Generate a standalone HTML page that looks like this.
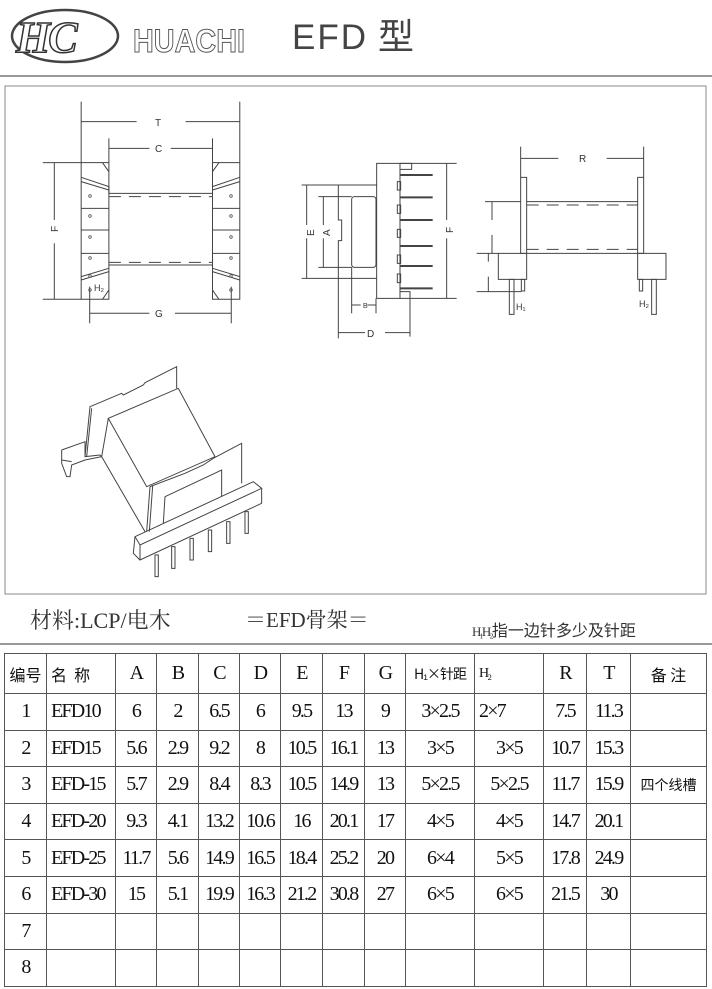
<!DOCTYPE html>
<html><head><meta charset="utf-8"><style>
html,body{margin:0;padding:0;background:#fff;}
body{width:712px;height:989px;position:relative;overflow:hidden;font-family:"Liberation Serif","Noto Serif CJK SC",serif;}
.abs{position:absolute;white-space:nowrap;}
table{position:absolute;left:4px;top:653px;border-collapse:collapse;}
td{border:1.5px solid #555;text-align:center;font-size:20px;color:#111;padding:0;letter-spacing:-1.8px;font-family:"Liberation Serif","Noto Serif CJK SC",serif;}
tr{height:36.6px;}
tr.h{height:40px;}
td.l{text-align:left;padding-left:4px;}
td.zh{font-family:"Noto Sans CJK SC",sans-serif;font-size:16px;letter-spacing:0;}
</style></head><body>
<svg class="abs" style="left:0;top:0" width="712" height="989" viewBox="0 0 712 989">
<!-- logo -->
<ellipse cx="65" cy="36" rx="53" ry="26" fill="none" stroke="#444" stroke-width="2.5"/>
<text x="16" y="52" font-family="Liberation Serif" font-style="italic" font-weight="bold" font-size="44" fill="#fff" stroke="#333" stroke-width="1.5" letter-spacing="-2">HC</text>
<text x="133" y="52" font-family="Liberation Sans" font-weight="bold" font-size="32" fill="#fff" stroke="#555" stroke-width="1" textLength="112" lengthAdjust="spacingAndGlyphs">HUACHI</text>
<text x="292" y="49" font-family="Liberation Sans,Noto Sans CJK SC,sans-serif" font-size="35" fill="#444" letter-spacing="2">EFD</text>
<text x="378" y="49" font-family="Noto Sans CJK SC,sans-serif" font-size="36" fill="#444">型</text>
<line x1="0" y1="76" x2="712" y2="76" stroke="#777" stroke-width="1.5"/>
<rect x="5" y="86" width="701" height="508" fill="none" stroke="#888" stroke-width="1"/>
<line x1="0" y1="644" x2="712" y2="644" stroke="#777" stroke-width="1.5"/>

<g fill="none" stroke="#444" stroke-width="1" vector-effect="non-scaling-stroke">
<!-- left view -->
<g transform="translate(30,90) scale(0.4264,0.3333)">
<rect x="120" y="218" width="65" height="410" vector-effect="non-scaling-stroke"/>
<rect x="428" y="218" width="64" height="410" vector-effect="non-scaling-stroke"/>
<line x1="185" y1="310" x2="428" y2="310" vector-effect="non-scaling-stroke"/>
<line x1="185" y1="525" x2="428" y2="525" vector-effect="non-scaling-stroke"/>
<line x1="185" y1="320" x2="428" y2="320" stroke-dasharray="12,8" vector-effect="non-scaling-stroke"/>
<line x1="185" y1="517" x2="428" y2="517" stroke-dasharray="12,8" vector-effect="non-scaling-stroke"/>
<polyline points="120,262 185,290 185,310" vector-effect="non-scaling-stroke"/>
<polyline points="120,275 185,300" vector-effect="non-scaling-stroke"/>
<polyline points="492,262 428,290" vector-effect="non-scaling-stroke"/>
<polyline points="492,275 428,300" vector-effect="non-scaling-stroke"/>
<line x1="120" y1="355" x2="185" y2="355" vector-effect="non-scaling-stroke"/>
<line x1="120" y1="420" x2="185" y2="420" vector-effect="non-scaling-stroke"/>
<line x1="120" y1="490" x2="185" y2="490" vector-effect="non-scaling-stroke"/>
<line x1="428" y1="355" x2="492" y2="355" vector-effect="non-scaling-stroke"/>
<line x1="428" y1="420" x2="492" y2="420" vector-effect="non-scaling-stroke"/>
<line x1="428" y1="490" x2="492" y2="490" vector-effect="non-scaling-stroke"/>
<polyline points="120,560 185,535" vector-effect="non-scaling-stroke"/>
<polyline points="120,570 185,545" vector-effect="non-scaling-stroke"/>
<polyline points="492,560 428,535" vector-effect="non-scaling-stroke"/>
<polyline points="492,570 428,545" vector-effect="non-scaling-stroke"/>
<line x1="170" y1="218" x2="185" y2="245" vector-effect="non-scaling-stroke"/>
<line x1="443" y1="218" x2="428" y2="245" vector-effect="non-scaling-stroke"/>
<line x1="170" y1="628" x2="185" y2="600" vector-effect="non-scaling-stroke"/>
<line x1="443" y1="628" x2="428" y2="600" vector-effect="non-scaling-stroke"/>
<line x1="120" y1="35" x2="120" y2="218" vector-effect="non-scaling-stroke"/>
<line x1="492" y1="35" x2="492" y2="218" vector-effect="non-scaling-stroke"/>
<line x1="120" y1="95" x2="250" y2="95" vector-effect="non-scaling-stroke"/>
<line x1="365" y1="95" x2="492" y2="95" vector-effect="non-scaling-stroke"/>
<line x1="185" y1="145" x2="185" y2="218" vector-effect="non-scaling-stroke"/>
<line x1="428" y1="145" x2="428" y2="218" vector-effect="non-scaling-stroke"/>
<line x1="185" y1="175" x2="280" y2="175" vector-effect="non-scaling-stroke"/>
<line x1="330" y1="175" x2="428" y2="175" vector-effect="non-scaling-stroke"/>
<line x1="30" y1="218" x2="120" y2="218" vector-effect="non-scaling-stroke"/>
<line x1="30" y1="628" x2="120" y2="628" vector-effect="non-scaling-stroke"/>
<line x1="57" y1="218" x2="57" y2="390" vector-effect="non-scaling-stroke"/>
<line x1="57" y1="460" x2="57" y2="628" vector-effect="non-scaling-stroke"/>
<line x1="140" y1="590" x2="140" y2="700" vector-effect="non-scaling-stroke"/>
<line x1="472" y1="590" x2="472" y2="700" vector-effect="non-scaling-stroke"/>
<line x1="140" y1="670" x2="280" y2="670" vector-effect="non-scaling-stroke"/>
<line x1="340" y1="670" x2="472" y2="670" vector-effect="non-scaling-stroke"/>
</g>
<!-- middle view -->
<g transform="translate(290,150) scale(0.3333)">
<rect x="260" y="40" width="70" height="405" vector-effect="non-scaling-stroke"/>
<polyline points="260,105 145,105 145,210 155,210 155,272 145,272 145,385 260,385" vector-effect="non-scaling-stroke"/>
<rect x="185" y="140" width="73" height="212" rx="8" vector-effect="non-scaling-stroke"/>
<polyline points="330,40 365,40 365,58 330,58" vector-effect="non-scaling-stroke"/>
<polyline points="330,425 360,425 360,560" vector-effect="non-scaling-stroke"/>
<g stroke-width="2">
<line x1="330" y1="75" x2="428" y2="75" vector-effect="non-scaling-stroke"/>
<line x1="330" y1="142" x2="428" y2="142" vector-effect="non-scaling-stroke"/>
<line x1="330" y1="210" x2="428" y2="210" vector-effect="non-scaling-stroke"/>
<line x1="330" y1="288" x2="428" y2="288" vector-effect="non-scaling-stroke"/>
<line x1="330" y1="348" x2="428" y2="348" vector-effect="non-scaling-stroke"/>
<line x1="330" y1="415" x2="428" y2="415" vector-effect="non-scaling-stroke"/>
</g>
<rect x="322" y="95" width="10" height="25" vector-effect="non-scaling-stroke"/>
<rect x="322" y="165" width="10" height="25" vector-effect="non-scaling-stroke"/>
<rect x="322" y="238" width="10" height="24" vector-effect="non-scaling-stroke"/>
<rect x="322" y="315" width="10" height="25" vector-effect="non-scaling-stroke"/>
<rect x="322" y="372" width="10" height="26" vector-effect="non-scaling-stroke"/>
<line x1="330" y1="40" x2="500" y2="40" vector-effect="non-scaling-stroke"/>
<line x1="330" y1="445" x2="500" y2="445" vector-effect="non-scaling-stroke"/>
<line x1="470" y1="40" x2="470" y2="210" vector-effect="non-scaling-stroke"/>
<line x1="470" y1="265" x2="470" y2="445" vector-effect="non-scaling-stroke"/>
<line x1="35" y1="105" x2="145" y2="105" vector-effect="non-scaling-stroke"/>
<line x1="35" y1="385" x2="145" y2="385" vector-effect="non-scaling-stroke"/>
<line x1="85" y1="140" x2="185" y2="140" vector-effect="non-scaling-stroke"/>
<line x1="85" y1="352" x2="185" y2="352" vector-effect="non-scaling-stroke"/>
<line x1="50" y1="105" x2="50" y2="225" vector-effect="non-scaling-stroke"/>
<line x1="50" y1="265" x2="50" y2="385" vector-effect="non-scaling-stroke"/>
<line x1="100" y1="140" x2="100" y2="225" vector-effect="non-scaling-stroke"/>
<line x1="100" y1="265" x2="100" y2="352" vector-effect="non-scaling-stroke"/>
<line x1="145" y1="385" x2="145" y2="565" vector-effect="non-scaling-stroke"/>
<line x1="185" y1="352" x2="185" y2="490" vector-effect="non-scaling-stroke"/>
<line x1="258" y1="445" x2="258" y2="490" vector-effect="non-scaling-stroke"/>
<line x1="185" y1="465" x2="212" y2="465" vector-effect="non-scaling-stroke"/>
<line x1="232" y1="465" x2="258" y2="465" vector-effect="non-scaling-stroke"/>
<line x1="145" y1="548" x2="225" y2="548" vector-effect="non-scaling-stroke"/>
<line x1="285" y1="548" x2="360" y2="548" vector-effect="non-scaling-stroke"/>
</g>
<!-- right view -->
<g transform="translate(470,140) scale(0.3333)">
<rect x="152" y="112" width="18" height="228" vector-effect="non-scaling-stroke"/>
<rect x="503" y="112" width="18" height="228" vector-effect="non-scaling-stroke"/>
<line x1="170" y1="185" x2="503" y2="185" vector-effect="non-scaling-stroke"/>
<line x1="170" y1="340" x2="503" y2="340" vector-effect="non-scaling-stroke"/>
<line x1="170" y1="195" x2="503" y2="195" stroke-dasharray="12,8" vector-effect="non-scaling-stroke"/>
<line x1="170" y1="328" x2="503" y2="328" stroke-dasharray="12,8" vector-effect="non-scaling-stroke"/>
<rect x="85" y="340" width="85" height="78" vector-effect="non-scaling-stroke"/>
<rect x="503" y="340" width="85" height="78" vector-effect="non-scaling-stroke"/>
<rect x="118" y="418" width="14" height="105" vector-effect="non-scaling-stroke"/>
<rect x="154" y="418" width="10" height="35" vector-effect="non-scaling-stroke"/>
<rect x="508" y="418" width="10" height="35" vector-effect="non-scaling-stroke"/>
<rect x="545" y="418" width="14" height="105" vector-effect="non-scaling-stroke"/>
<line x1="152" y1="20" x2="152" y2="112" vector-effect="non-scaling-stroke"/>
<line x1="521" y1="20" x2="521" y2="112" vector-effect="non-scaling-stroke"/>
<line x1="152" y1="55" x2="265" y2="55" vector-effect="non-scaling-stroke"/>
<line x1="410" y1="55" x2="521" y2="55" vector-effect="non-scaling-stroke"/>
<line x1="45" y1="185" x2="152" y2="185" vector-effect="non-scaling-stroke"/>
<line x1="20" y1="340" x2="85" y2="340" vector-effect="non-scaling-stroke"/>
<line x1="20" y1="455" x2="154" y2="455" vector-effect="non-scaling-stroke"/>
<line x1="66" y1="185" x2="66" y2="240" vector-effect="non-scaling-stroke"/>
<line x1="66" y1="285" x2="66" y2="340" vector-effect="non-scaling-stroke"/>
<line x1="55" y1="340" x2="55" y2="365" vector-effect="non-scaling-stroke"/>
<line x1="55" y1="410" x2="55" y2="455" vector-effect="non-scaling-stroke"/>
</g>
<!-- 3D view -->
<g transform="translate(40,360) scale(0.3333)">
<polyline points="135,290 150,140 245,100 250,105 310,75 315,68 410,20 410,85" vector-effect="non-scaling-stroke"/>
<polyline points="140,290 155,145" vector-effect="non-scaling-stroke"/>
<polyline points="65,270 135,245 135,290 180,285 185,290" vector-effect="non-scaling-stroke"/>
<polyline points="65,270 65,310 80,350 90,350 95,315 135,300 185,290" vector-effect="non-scaling-stroke"/>
<polyline points="65,300 95,305" vector-effect="non-scaling-stroke"/>
<polygon points="205,175 415,85 525,290 320,380" vector-effect="non-scaling-stroke"/>
<polyline points="205,175 185,290 315,515" vector-effect="non-scaling-stroke"/>
<polyline points="330,380 435,340 490,315 520,295 605,250 605,370" vector-effect="non-scaling-stroke"/>
<polyline points="330,380 320,515" vector-effect="non-scaling-stroke"/>
<polyline points="338,378 328,515" vector-effect="non-scaling-stroke"/>
<polyline points="370,490 375,410 545,330 545,410" vector-effect="non-scaling-stroke"/>
<polygon points="285,530 640,365 665,385 300,555" vector-effect="non-scaling-stroke"/>
<polyline points="285,530 280,580 300,600 665,430 665,385" vector-effect="non-scaling-stroke"/>
<line x1="300" y1="555" x2="300" y2="600" vector-effect="non-scaling-stroke"/>
<rect x="345" y="585" width="10" height="65" vector-effect="non-scaling-stroke"/>
<rect x="395" y="560" width="10" height="65" vector-effect="non-scaling-stroke"/>
<rect x="450" y="535" width="10" height="65" vector-effect="non-scaling-stroke"/>
<rect x="505" y="510" width="10" height="65" vector-effect="non-scaling-stroke"/>
<rect x="560" y="485" width="10" height="65" vector-effect="non-scaling-stroke"/>
<rect x="615" y="455" width="10" height="65" vector-effect="non-scaling-stroke"/>
</g>
</g>
<g fill="none" stroke="#555" stroke-width="0.8">
<circle cx="90" cy="196" r="1.3"/><circle cx="90" cy="216" r="1.3"/><circle cx="90" cy="237" r="1.3"/><circle cx="90" cy="258" r="1.3"/><circle cx="90" cy="276" r="1.3"/><circle cx="90" cy="290" r="1.3"/>
<circle cx="231" cy="196" r="1.3"/><circle cx="231" cy="216" r="1.3"/><circle cx="231" cy="237" r="1.3"/><circle cx="231" cy="258" r="1.3"/><circle cx="231" cy="276" r="1.3"/><circle cx="231" cy="290" r="1.3"/>
</g>
<g font-family="Liberation Sans,sans-serif" font-size="10" fill="#333">
<text x="155" y="126">T</text><text x="155" y="152">C</text>
<text x="155" y="317">G</text>
<text x="94" y="291" font-size="9">H₂</text>
<text x="58" y="232" transform="rotate(-90 58 232)">F</text>
<text x="314" y="236" transform="rotate(-90 314 236)">E</text>
<text x="330" y="236" transform="rotate(-90 330 236)">A</text>
<text x="453" y="233" transform="rotate(-90 453 233)">F</text>
<text x="367" y="337">D</text>
<text x="363" y="308" font-size="7">B</text>
<text x="579" y="162">R</text>
<text x="516" y="310" font-size="9">H₁</text>
<text x="639" y="307" font-size="9">H₂</text>
</g>
</svg>
<div class="abs" style="left:30px;top:604px;font-size:22px;color:#333;font-family:'Liberation Serif','Noto Serif CJK SC',serif;">材料:LCP/电木</div>
<div class="abs" style="left:245px;top:604px;font-size:21px;color:#333;font-family:'Liberation Serif','Noto Serif CJK SC',serif;">＝EFD骨架＝</div>
<div class="abs" style="left:472px;top:617px;font-size:16px;color:#333;font-family:'Liberation Serif','Noto Sans CJK SC',serif;"><span style="letter-spacing:-2px;font-size:13px">H₁H₂</span>指一边针多少及针距</div>
<table>
<colgroup><col style="width:42px"><col style="width:69px"><col style="width:41px"><col style="width:42px"><col style="width:41px"><col style="width:41px"><col style="width:42px"><col style="width:42px"><col style="width:41px"><col style="width:69px"><col style="width:69px"><col style="width:43px"><col style="width:44px"><col style="width:76px"></colgroup>
<tr class="h"><td class="zh">编号</td><td class="zh l">名&nbsp;&nbsp;称</td><td>A</td><td>B</td><td>C</td><td>D</td><td>E</td><td>F</td><td>G</td><td class="zh" style="font-size:14px;letter-spacing:-1px">H₁×针距</td><td class="l" style="font-size:14px">H₂</td><td>R</td><td>T</td><td class="zh">备&nbsp;注</td></tr>
<tr><td>1</td><td class="l">EFD10</td><td>6</td><td>2</td><td>6.5</td><td>6</td><td>9.5</td><td>13</td><td>9</td><td>3×2.5</td><td class="l">2×7</td><td>7.5</td><td>11.3</td><td></td></tr>
<tr><td>2</td><td class="l">EFD15</td><td>5.6</td><td>2.9</td><td>9.2</td><td>8</td><td>10.5</td><td>16.1</td><td>13</td><td>3×5</td><td>3×5</td><td>10.7</td><td>15.3</td><td></td></tr>
<tr><td>3</td><td class="l">EFD-15</td><td>5.7</td><td>2.9</td><td>8.4</td><td>8.3</td><td>10.5</td><td>14.9</td><td>13</td><td>5×2.5</td><td>5×2.5</td><td>11.7</td><td>15.9</td><td class="zh" style="font-size:14px">四个线槽</td></tr>
<tr><td>4</td><td class="l">EFD-20</td><td>9.3</td><td>4.1</td><td>13.2</td><td>10.6</td><td>16</td><td>20.1</td><td>17</td><td>4×5</td><td>4×5</td><td>14.7</td><td>20.1</td><td></td></tr>
<tr><td>5</td><td class="l">EFD-25</td><td>11.7</td><td>5.6</td><td>14.9</td><td>16.5</td><td>18.4</td><td>25.2</td><td>20</td><td>6×4</td><td>5×5</td><td>17.8</td><td>24.9</td><td></td></tr>
<tr><td>6</td><td class="l">EFD-30</td><td>15</td><td>5.1</td><td>19.9</td><td>16.3</td><td>21.2</td><td>30.8</td><td>27</td><td>6×5</td><td>6×5</td><td>21.5</td><td>30</td><td></td></tr>
<tr><td>7</td><td></td><td></td><td></td><td></td><td></td><td></td><td></td><td></td><td></td><td></td><td></td><td></td><td></td></tr>
<tr><td>8</td><td></td><td></td><td></td><td></td><td></td><td></td><td></td><td></td><td></td><td></td><td></td><td></td><td></td></tr>
</table>
</body></html>
